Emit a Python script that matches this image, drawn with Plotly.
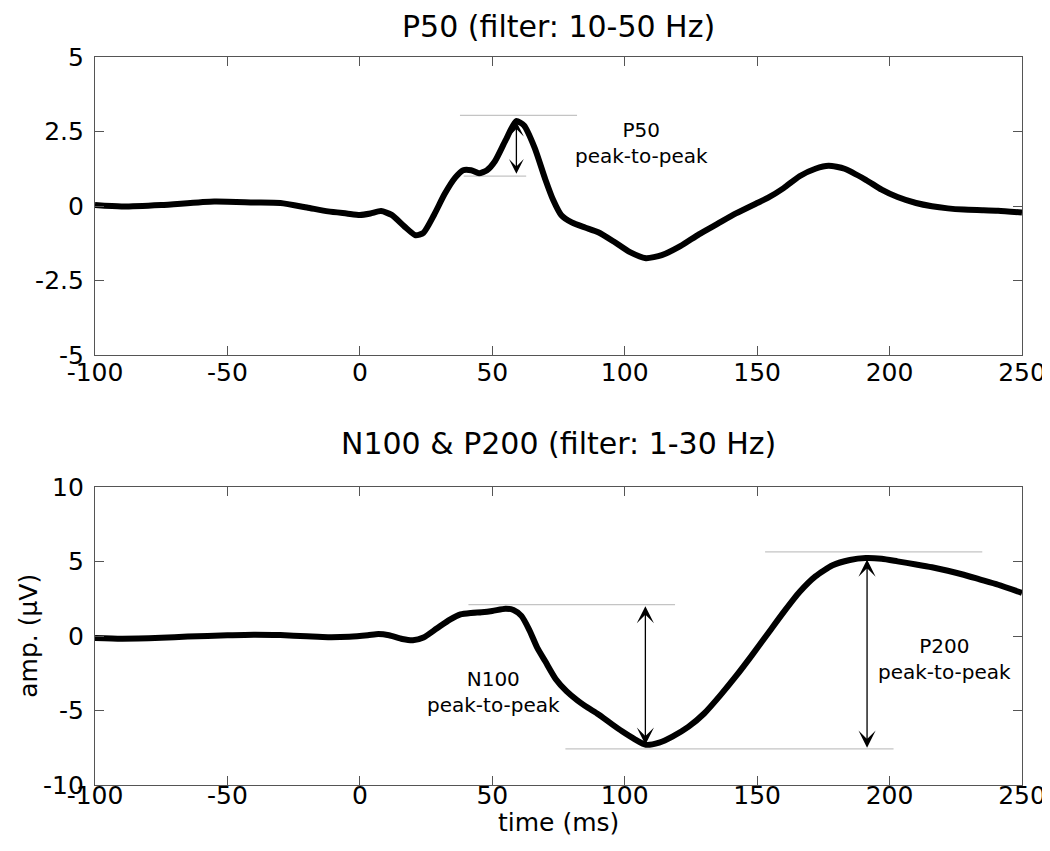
import plotly.graph_objects as go

# ---------------- data ----------------
t_p50 = [-100, -90, -75, -55, -40, -30, -20, -12, -5, 0, 4, 8, 12, 17, 21, 24, 28, 32, 36, 39,
         42, 45, 48, 51, 55, 59, 62, 66, 70, 73, 76, 80, 85, 90, 96, 102, 108, 114, 121, 128,
         135, 142, 150, 154, 160, 166, 172, 177, 183, 191, 197, 203, 210, 216, 222, 228, 235,
         241, 250]
v_p50 = [0.03, -0.02, 0.03, 0.15, 0.12, 0.1, -0.05, -0.18, -0.25, -0.3, -0.25, -0.17, -0.3,
         -0.7, -0.98, -0.9, -0.3, 0.4, 0.95, 1.2, 1.2, 1.1, 1.2, 1.5, 2.2, 2.85, 2.7, 1.95, 0.9,
         0.2, -0.3, -0.55, -0.72, -0.88, -1.2, -1.55, -1.75, -1.65, -1.35, -0.95, -0.6, -0.25,
         0.1, 0.27, 0.6, 1.0, 1.25, 1.35, 1.25, 0.88, 0.55, 0.3, 0.1, -0.01, -0.08, -0.12,
         -0.14, -0.16, -0.22]

t_erp = [-100, -90, -75, -65, -50, -40, -30, -20, -12, -4, 3, 7, 11, 16, 20, 24, 29, 34, 38,
         42, 46, 50, 55, 58, 61, 64, 67, 70, 74, 78, 82, 86, 90, 95, 99, 104, 108, 113, 118,
         124, 130, 136, 142, 148, 154, 160, 166, 172, 178.5, 185, 191, 197, 203, 210, 216,
         222, 228, 234, 241, 250]
v_erp = [-0.13, -0.18, -0.12, -0.04, 0.05, 0.09, 0.06, -0.02, -0.08, -0.05, 0.05, 0.13, 0.05,
         -0.2, -0.29, -0.1, 0.5, 1.1, 1.45, 1.55, 1.6, 1.68, 1.83, 1.75, 1.35, 0.4, -0.8, -1.7,
         -2.9, -3.7, -4.3, -4.8, -5.25, -5.9, -6.4, -6.95, -7.3, -7.15, -6.75, -6.1, -5.2,
         -4.0, -2.7, -1.3, 0.15, 1.6, 2.95, 4.0, 4.75, 5.1, 5.23, 5.18, 5.01, 4.8, 4.61, 4.38,
         4.11, 3.8, 3.44, 2.89]

# reference (gray) level lines: [x_start, x_end], level
p50_ref_x = [[37.8, 82.0], [39.2, 62.8]]
p50_ref_y = [3.04, 1.0]
erp_ref_x = [[41.0, 119.0], [77.6, 201.5], [153.0, 235.0]]
erp_ref_y = [2.1, -7.58, 5.64]

# peak-to-peak arrows: x, from, to
p50_arrow = (59.1, 2.88, 1.08)
n100_arrow = (107.8, 2.1, -7.3)
p200_arrow = (191.5, 5.23, -7.5)

x_ticks = [-100, -50, 0, 50, 100, 150, 200, 250]
x_labels = ["-100", "-50", "0", "50", "100", "150", "200", "250"]
y1_ticks = [-5, -2.5, 0, 2.5, 5]
y1_labels = ["-5", "-2.5", "0", "2.5", "5"]
y2_ticks = [-10, -5, 0, 5, 10]
y2_labels = ["-10", "-5", "0", "5", "10"]

FONT = "DejaVu Sans, Liberation Sans, Arial, sans-serif"
AX = "#555555"

fig = go.Figure()
for xs, lv in zip(p50_ref_x, p50_ref_y):
    fig.add_trace(go.Scatter(x=xs, y=[lv, lv], mode="lines", line=dict(color="#c4c4c4", width=1.2),
                             xaxis="x", yaxis="y", hoverinfo="skip"))
for xs, lv in zip(erp_ref_x, erp_ref_y):
    fig.add_trace(go.Scatter(x=xs, y=[lv, lv], mode="lines", line=dict(color="#c4c4c4", width=1.2),
                             xaxis="x2", yaxis="y2", hoverinfo="skip"))
fig.add_trace(go.Scatter(x=t_p50, y=v_p50, mode="lines",
                         line=dict(color="black", width=6, shape="spline", smoothing=0.6),
                         xaxis="x", yaxis="y"))
fig.add_trace(go.Scatter(x=t_erp, y=v_erp, mode="lines",
                         line=dict(color="black", width=6, shape="spline", smoothing=0.6),
                         xaxis="x2", yaxis="y2"))

annotations = []


def arrow(xr, yr, a, size):
    x, y0, y1 = a
    annotations.append(dict(xref=xr, yref=yr, axref=xr, ayref=yr, x=x, y=y1, ax=x, ay=y0,
                            text="", showarrow=True, arrowside="end+start", arrowhead=3,
                            startarrowhead=3, arrowsize=size, startarrowsize=size,
                            arrowwidth=1.3, arrowcolor="black", standoff=0, startstandoff=0))


arrow("x", "y", p50_arrow, 1.9)
arrow("x2", "y2", n100_arrow, 2.2)
arrow("x2", "y2", p200_arrow, 2.2)

lab_font = dict(family=FONT, size=20, color="black")
annotations += [
    dict(xref="x", yref="y", x=106.5, y=2.1, text="P50<br>peak-to-peak", showarrow=False,
         font=lab_font, align="center"),
    dict(xref="x2", yref="y2", x=50.4, y=-3.79, text="N100<br>peak-to-peak", showarrow=False,
         font=lab_font, align="center"),
    dict(xref="x2", yref="y2", x=220.9, y=-1.51, text="P200<br>peak-to-peak", showarrow=False,
         font=lab_font, align="center"),
    dict(xref="paper", yref="paper", x=0.5, y=(777 - 0) / 728, text="P50 (filter: 10-50 Hz)",
         showarrow=False, font=dict(family=FONT, size=30, color="black"), yanchor="top",
         borderpad=0),
    dict(xref="paper", yref="paper", x=0.5, y=(777 - 435) / 728, text="N100 & P200 (filter: 1-30 Hz)",
         showarrow=False, font=dict(family=FONT, size=30, color="black"), yanchor="middle"),
    dict(xref="paper", yref="paper", x=0.5, y=(777 - 814) / 728, text="time (ms)",
         showarrow=False, font=dict(family=FONT, size=25, color="black"), yanchor="middle"),
    dict(xref="paper", yref="paper", x=(19 - 87) / 938, y=(777 - 628) / 728, text="amp. (µV)",
         showarrow=False, font=dict(family=FONT, size=25, color="black"), textangle=-90,
         xanchor="center", yanchor="middle"),
]

axis_common = dict(showline=True, linecolor=AX, linewidth=1.2, mirror="ticks", ticks="inside",
                   ticklen=9, tickcolor=AX, tickwidth=1.2, showgrid=False, zeroline=False,
                   tickfont=dict(family=FONT, size=25, color="black"))

top_dom = [430 / 728, 1.0]
bot_dom = [0.0, 298 / 728]

fig.update_layout(
    width=1050, height=851,
    margin=dict(l=87, r=25, t=49, b=74),
    paper_bgcolor="white", plot_bgcolor="white",
    showlegend=False,
    font=dict(family=FONT, color="black"),
    xaxis=dict(domain=[0, 1], anchor="y", range=[-100, 250], tickvals=x_ticks, ticktext=x_labels,
               ticklabelstandoff=-5, **axis_common),
    yaxis=dict(domain=top_dom, anchor="x", range=[-5, 5], tickvals=y1_ticks, ticktext=y1_labels,
               ticklabelstandoff=5, **axis_common),
    xaxis2=dict(domain=[0, 1], anchor="y2", range=[-100, 250], tickvals=x_ticks, ticktext=x_labels,
                ticklabelstandoff=-12, **axis_common),
    yaxis2=dict(domain=bot_dom, anchor="x2", range=[-10, 10], tickvals=y2_ticks, ticktext=y2_labels,
                ticklabelstandoff=5, **axis_common),
    annotations=annotations,
)

fig.write_html("out.html")
